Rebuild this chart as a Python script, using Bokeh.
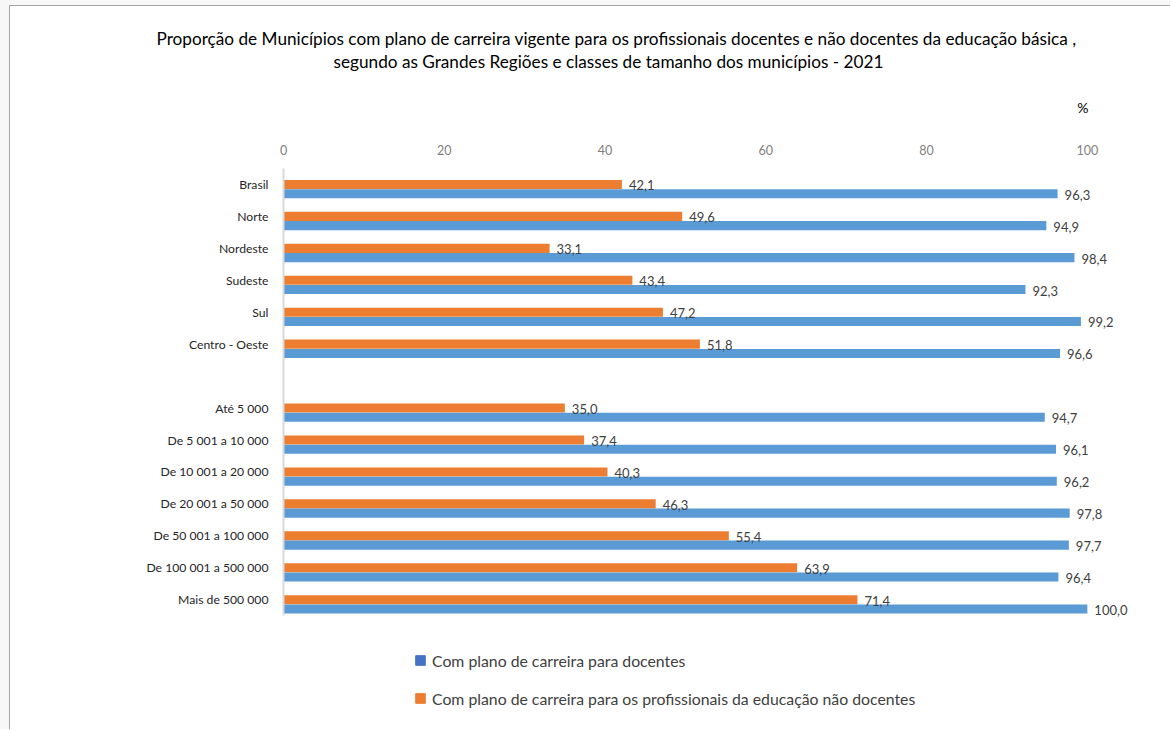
from bokeh.plotting import figure
from bokeh.models import (ColumnDataSource, FactorRange, FixedTicker, Title,
                          Legend, LegendItem)
from bokeh.transform import dodge
from bokeh.core.properties import value
from bokeh.embed import file_html
from bokeh.resources import INLINE

# ---- data ----
categories = ["Brasil", "Norte", "Nordeste", "Sudeste", "Sul", "Centro - Oeste",
              "Até 5 000", "De 5 001 a 10 000", "De 10 001 a 20 000",
              "De 20 001 a 50 000", "De 50 001 a 100 000",
              "De 100 001 a 500 000", "Mais de 500 000"]
docentes = [96.3, 94.9, 98.4, 92.3, 99.2, 96.6,
            94.7, 96.1, 96.2, 97.8, 97.7, 96.4, 100.0]
nao_docentes = [42.1, 49.6, 33.1, 43.4, 47.2, 51.8,
                35.0, 37.4, 40.3, 46.3, 55.4, 63.9, 71.4]
x_ticks = [0, 20, 40, 60, 80, 100]
series_names = ["Com plano de carreira para docentes",
                "Com plano de carreira para os profissionais da educação não docentes"]
title_lines = ["Proporção de Municípios com  plano de carreira vigente para os profissionais docentes e não docentes da educação básica ,",
               "segundo as Grandes Regiões e classes de tamanho dos municípios - 2021"]

FONT = "Lato"
BLUE = "#5b9bd5"
ORANGE = "#ed7d31"
LEG_BLUE = "#4472c4"

# top-to-bottom order with a blank separator row; extra blank rows at the
# bottom leave room for the legend inside the plotting frame
display = categories[:6] + [" "] + categories[6:]
bottom_blank = ["  ", "   ", "    "]
factors = bottom_blank[::-1] + list(reversed(display))
n_real = len(display)
n_blank = len(bottom_blank)

fmt = lambda v: f"{v:.1f}".replace(".", ",")
src = ColumnDataSource(dict(
    cat=categories,
    doc=docentes,
    nao=nao_docentes,
    doc_lbl=[fmt(v) for v in docentes],
    nao_lbl=[fmt(v) for v in nao_docentes],
))

# chart-area frame (grey page edge and thin border line, like the source image)
page_bg = ("linear-gradient(#a6a6a6,#a6a6a6) 9px 5px / 1px calc(100% - 5px) no-repeat, "
           "linear-gradient(#a6a6a6,#a6a6a6) 9px 5px / calc(100% - 9px) 1px no-repeat, "
           "linear-gradient(#f7f7f7,#f7f7f7) 0 0 / 9px 100% no-repeat, "
           "linear-gradient(#f7f7f7,#f7f7f7) 0 0 / 100% 5px no-repeat, #ffffff")

p = figure(width=1170, height=729,
           y_range=FactorRange(factors=factors, range_padding=0),
           x_range=(0, 109.1),
           x_axis_location="above",
           output_backend="svg", toolbar_location=None,
           min_border_left=283, min_border_right=10,
           min_border_top=168, min_border_bottom=18,
           styles={"background": page_bg})
p.outline_line_color = None
p.background_fill_color = "white"
p.border_fill_color = None
p.xgrid.visible = False
p.ygrid.visible = False

BAR_H = 0.285
OFF_O = 0.0
OFF_B = -0.29

p.hbar(y=dodge("cat", OFF_O, range=p.y_range), right="nao", left=0,
       height=BAR_H, source=src, color=ORANGE, line_color=None)
p.hbar(y=dodge("cat", OFF_B, range=p.y_range), right="doc", left=0,
       height=BAR_H, source=src, color=BLUE, line_color=None)

for col, lbl, off in (("nao", "nao_lbl", OFF_O), ("doc", "doc_lbl", OFF_B)):
    p.text(x=col, y=dodge("cat", off, range=p.y_range), text=lbl,
           source=src, x_offset=7, y_offset=1, text_baseline="middle",
           text_align="left", text_font=value(FONT), text_font_size="13px",
           text_color="#404040")

# x axis (top)
xa = p.xaxis[0]
xa.ticker = FixedTicker(ticks=x_ticks)
xa.axis_line_color = None
xa.major_tick_line_color = None
xa.minor_tick_line_color = None
xa.major_label_standoff = 8
xa.major_label_text_font = FONT
xa.major_label_text_font_size = "12.5px"
xa.major_label_text_color = "#808080"

# y axis
ya = p.yaxis[0]
ya.bounds = (n_blank, n_blank + n_real)
ya.axis_line_color = "#d9d9d9"
ya.axis_line_width = 2
ya.major_tick_line_color = None
ya.minor_tick_line_color = None
ya.major_label_standoff = 9
ya.major_label_text_font = FONT
ya.major_label_text_font_size = "12.2px"
ya.major_label_text_color = "#262626"

# unit and titles (stacked outward from the axis)
p.add_layout(Title(text="%", align="right", offset=72, standoff=50,
                   vertical_align="middle",
                   text_font=FONT, text_font_size="14px",
                   text_font_style="normal", text_color="#000000"), "above")
p.add_layout(Title(text=title_lines[1], align="left", offset=50, standoff=0,
                   vertical_align="middle",
                   text_font=FONT, text_font_size="17.2px",
                   text_font_style="normal", text_color="#000000"), "above")
p.add_layout(Title(text=title_lines[0], align="left", offset=-127, standoff=0,
                   vertical_align="middle",
                   text_font=FONT, text_font_size="17.2px",
                   text_font_style="normal", text_color="#000000"), "above")

# legend (hidden swatch renderers carrying the legend colours)
sw_src = ColumnDataSource(dict(x=[docentes[0]], y=[categories[0]]))
leg_b = p.scatter(x="x", y="y", source=sw_src, marker="square", size=10,
                  color=LEG_BLUE, visible=False)
leg_o = p.scatter(x="x", y="y", source=sw_src, marker="square", size=10,
                  color=ORANGE, visible=False)
legend = Legend(items=[LegendItem(label=series_names[0], renderers=[leg_b]),
                       LegendItem(label=series_names[1], renderers=[leg_o])],
                location=(125, 1), orientation="vertical",
                glyph_width=24, glyph_height=24, label_height=24,
                spacing=14, padding=0, margin=0, label_standoff=-3,
                border_line_color=None, background_fill_alpha=0,
                label_text_font=FONT, label_text_font_size="15.8px",
                label_text_color="#404040")
p.add_layout(legend)

open("out.html", "w").write(file_html(p, INLINE))
